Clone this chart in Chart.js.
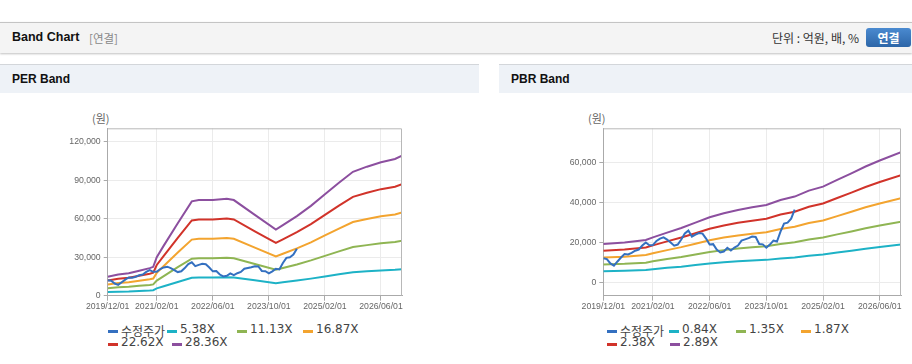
<!DOCTYPE html>
<html>
<head>
<meta charset="utf-8">
<script src="https://cdn.jsdelivr.net/npm/chart.js@4/dist/chart.umd.min.js"></script>
<style>
    body { margin: 0; width: 912px; height: 364px; overflow: hidden; background: #fff; position: relative;
           font-family: "Liberation Sans", Arial, "Noto Sans CJK KR", sans-serif; color: #222; }
    .abs { position: absolute; white-space: nowrap; }
    #topbar { left: 0; top: 22px; width: 912px; height: 30px; background: #f4f4f4;
              border-top: 1px solid #c4c4c4; box-shadow: 0 1px 2px rgba(0,0,0,0.25); }
    .title { font-weight: bold; font-size: 12.5px; color: #111; }
    .btn { left: 866px; top: 28px; width: 45px; height: 19px; border-radius: 3px;
           background: linear-gradient(#4a8ad0, #2d66a8); color: #fff; font-weight: bold;
           font-size: 12px; text-align: center; line-height: 19px; font-family: "Noto Sans CJK KR", sans-serif; }
    .phead { top: 64px; height: 28px; background: #eef2f7; border-top: 1px solid #d3d6da; }
    .unit { font-size: 11px; color: #666; font-family: "Noto Sans CJK KR", sans-serif; }
    .box { top: 93px; height: 220px; }
    .lg { font-family: "DejaVu Sans", "Noto Sans CJK KR", sans-serif; font-size: 12px; color: #444; }
    .lg i { position: absolute; left: 0; top: 7px; width: 10px; height: 3px; }
    .lg span { position: absolute; left: 13px; top: -1px; }
</style>
</head>
<body>
<div class="abs" id="topbar"></div>
<div class="abs title" style="left:12px;top:30px;">Band Chart</div>
<div class="abs" style="left:89px;top:30px;font-size:11.5px;color:#888;font-family:'Noto Sans CJK KR',sans-serif;">[연결]</div>
<div class="abs" style="right:53px;top:29px;font-size:12px;color:#333;font-family:'Noto Sans CJK KR',sans-serif;">단위 : 억원, 배, %</div>
<div class="abs btn">연결</div>

<div class="abs phead" style="left:0;width:479px;"></div>
<div class="abs title" style="left:12px;top:72px;font-size:12px;">PER Band</div>
<div class="abs phead" style="left:499px;width:413px;"></div>
<div class="abs title" style="left:511px;top:72px;font-size:12px;">PBR Band</div>

<div class="abs unit" style="left:92px;top:110px;">(원)</div>
<div class="abs unit" style="left:588px;top:110px;">(원)</div>

<div class="abs box" style="left:0;width:479px;"><canvas id="perChart"></canvas></div>
<div class="abs box" style="left:499px;width:413px;"><canvas id="pbrChart"></canvas></div>

<div id="perLegend"></div>
<div id="pbrLegend"></div>

<script>
// x axis runs monthly from 2019/12 to 2026/12
const axisStart = "2019/12";
const axisEnd = "2026/12";
const xTickMonths = ["2019/12", "2021/02", "2022/06", "2023/10", "2025/02", "2026/06"];

// adjusted share price (수정주가), monthly from 2019/12 to 2024/06
const priceStart = "2019/12";
const priceValues = [12100, 11700, 9500, 8400, 10500, 12500, 14200, 14000, 14800, 15900,
    16500, 18500, 20000, 18600, 18700, 20800, 22000, 22600, 21500, 20000,
    18400, 19000, 21500, 24600, 26000, 23000, 24000, 24800, 24500, 22000,
    19000, 19200, 16500, 15000, 15500, 17400, 16000, 17500, 18500, 21000,
    21600, 22200, 23000, 22800, 19300, 19100, 17400, 19000, 21000, 20500,
    25500, 29500, 30000, 32000, 36500];

// PER band
const perMonths = ["2019/12", "2020/03", "2020/06", "2020/09", "2020/12", "2021/01", "2021/02", "2021/04",
    "2021/08", "2021/12", "2022/02", "2022/06", "2022/10", "2022/12", "2023/06", "2023/12", "2024/02",
    "2024/06", "2024/10", "2025/02", "2025/06", "2025/10", "2026/02", "2026/06", "2026/10", "2026/12"];
const perLabels = ["5.38X", "11.13X", "16.87X", "22.62X", "28.36X"];
const per538 = [2800, 3100, 3300, 3700, 4100, 4300, 5700, 7400, 10700, 13900, 14100, 14100, 14300,
    14100, 12000, 9800, 10400, 11800, 13300, 15000, 16700, 18300, 19100, 19700, 20200, 20700];
const per1113 = [5800, 6500, 6900, 7700, 8400, 8800, 11800, 15300, 22200, 28800, 29200, 29200, 29600,
    29200, 24700, 20200, 21600, 24300, 27500, 31000, 34500, 37900, 39400, 40800, 41800, 42800];
const per1687 = [8800, 9800, 10400, 11600, 12800, 13400, 17800, 23200, 33600, 43700, 44300, 44300, 44900,
    44300, 37500, 30600, 32700, 36900, 41600, 47000, 52300, 57400, 59800, 61900, 63300, 64800];
const per2262 = [11800, 13200, 14000, 15600, 17100, 17900, 23900, 31100, 45100, 58600, 59400, 59400, 60200,
    59400, 50200, 41100, 43900, 49500, 55800, 63000, 70200, 77000, 80200, 83000, 84900, 86900];
const per2836 = [14800, 16500, 17500, 19500, 21500, 22500, 30000, 39000, 56500, 73500, 74500, 74500, 75500,
    74500, 63000, 51500, 55000, 62000, 70000, 79000, 88000, 96500, 100500, 104000, 106500, 109000];
const perYTicks = [0, 30000, 60000, 90000, 120000];

// PBR band
const pbrMonths = ["2019/12", "2020/06", "2020/12", "2021/02", "2021/06", "2021/10", "2022/02", "2022/06",
    "2022/10", "2023/02", "2023/06", "2023/10", "2024/02", "2024/06", "2024/10", "2025/02", "2025/06",
    "2025/10", "2026/02", "2026/06", "2026/12"];
const pbrLabels = ["0.84X", "1.35X", "1.87X", "2.38X", "2.89X"];
const pbr084 = [5600, 5800, 6200, 6600, 7300, 7900, 8700, 9500, 10100, 10600, 11000, 11300, 12000,
    12500, 13400, 14000, 15000, 15900, 16900, 17800, 19000];
const pbr135 = [9000, 9300, 9900, 10600, 11700, 12700, 14000, 15300, 16200, 17000, 17600, 18200, 19300,
    20100, 21500, 22500, 24100, 25600, 27200, 28600, 30500];
const pbr187 = [12500, 12900, 13800, 14600, 16200, 17700, 19400, 21200, 22500, 23600, 24400, 25200, 26800,
    27900, 29800, 31100, 33300, 35500, 37700, 39600, 42300];
const pbr238 = [15900, 16500, 17500, 18600, 20600, 22500, 24700, 26900, 28600, 30000, 31000, 32000, 34100,
    35500, 38000, 39600, 42400, 45100, 47900, 50400, 53900];
const pbr289 = [19300, 20000, 21300, 22600, 25000, 27300, 30000, 32700, 34700, 36400, 37700, 38900, 41400,
    43100, 46100, 48100, 51500, 54800, 58200, 61200, 65400];
const pbrYTicks = [0, 20000, 40000, 60000];

const priceLabel = "수정주가";
const colors = ["#3470c0", "#1db2c6", "#8fb553", "#f3a42f", "#d1332a", "#8c4f9f"];

function monthIndex(s) {
    const [y, m] = s.split("/").map(Number);
    const [y0, m0] = axisStart.split("/").map(Number);
    return (y - y0) * 12 + (m - m0);
}

function monthLabel(idx) {
    const [y0, m0] = axisStart.split("/").map(Number);
    const total = y0 * 12 + (m0 - 1) + idx;
    const y = Math.floor(total / 12);
    const m = total % 12 + 1;
    return y + "/" + String(m).padStart(2, "0") + "/01";
}

function toPoints(months, values) {
    return values.map((v, i) => ({ x: monthIndex(months[i]), y: v }));
}

function pricePoints() {
    const start = monthIndex(priceStart);
    return priceValues.map((v, i) => ({ x: start + i, y: v }));
}

// draws the light box round the plot area
const frame = {
    id: "frame",
    afterDraw(chart) {
        const a = chart.chartArea, ctx = chart.ctx;
        ctx.save();
        ctx.strokeStyle = "#b8b8b8";
        ctx.lineWidth = 1;
        ctx.beginPath();
        ctx.moveTo(a.left, a.top + 0.5);
        ctx.lineTo(a.right - 0.5, a.top + 0.5);
        ctx.lineTo(a.right - 0.5, a.bottom);
        ctx.stroke();
        ctx.restore();
    }
};

function makeChart(id, months, bands, labels, yTicks, yMin, yMax, yWidth, padRight) {
    const datasets = [{
        label: priceLabel,
        data: pricePoints(),
        borderColor: colors[0]
    }];
    bands.forEach((band, i) => {
        datasets.push({ label: labels[i], data: toPoints(months, band), borderColor: colors[i + 1] });
    });
    datasets.forEach(d => { d.borderWidth = 2; d.pointRadius = 0; d.fill = false; d.tension = 0; });

    const tickFont = { family: "'Liberation Sans', Arial, sans-serif", size: 8.7 };
    return new Chart(document.getElementById(id), {
        type: "line",
        data: { datasets },
        plugins: [frame],
        options: {
            responsive: true,
            maintainAspectRatio: false,
            animation: false,
            layout: { padding: { left: 0, top: 35.3, right: padRight, bottom: 0 } },
            plugins: { legend: { display: false }, tooltip: { enabled: false } },
            scales: {
                x: {
                    type: "linear",
                    min: monthIndex(axisStart),
                    max: monthIndex(axisEnd),
                    afterBuildTicks: axis => { axis.ticks = xTickMonths.map(m => ({ value: monthIndex(m) })); },
                    afterFit: axis => { axis.height = 17.3; },
                    ticks: { callback: v => monthLabel(v), color: "#666", font: tickFont, maxRotation: 0, autoSkip: false, padding: 1 },
                    grid: { color: "#ebebeb", tickColor: "#aaa", tickLength: 5 },
                    border: { color: "#aaa" }
                },
                y: {
                    min: yMin,
                    max: yMax,
                    afterBuildTicks: axis => { axis.ticks = yTicks.map(v => ({ value: v })); },
                    afterFit: axis => { axis.width = yWidth; },
                    ticks: { callback: v => v.toLocaleString("en-US"), color: "#666", font: tickFont, padding: 3 },
                    grid: { color: "#ebebeb", tickColor: "#aaa", tickLength: 4 },
                    border: { color: "#aaa" }
                }
            }
        }
    });
}

makeChart("perChart", perMonths, [per538, per1113, per1687, per2262, per2836], perLabels,
    perYTicks, 0, 130400, 107.7, 77);
makeChart("pbrChart", pbrMonths, [pbr084, pbr135, pbr187, pbr238, pbr289], pbrLabels,
    pbrYTicks, -6700, 77400, 104.3, 11);

// legends in two rows, placed like the original page
function buildLegend(elId, labels, slots) {
    const el = document.getElementById(elId);
    const names = [priceLabel].concat(labels);
    names.forEach((name, i) => {
        const item = document.createElement("div");
        item.className = "abs lg";
        item.style.left = slots[i][0] + "px";
        item.style.top = slots[i][1] + "px";
        item.innerHTML = '<i style="background:' + colors[i] + '"></i><span>' + name + "</span>";
        el.appendChild(item);
    });
}

buildLegend("perLegend", perLabels, [[108, 323], [167, 323], [237, 323], [303, 323], [108, 336], [172, 336]]);
buildLegend("pbrLegend", pbrLabels, [[607, 323], [669, 323], [736, 323], [801, 323], [607, 336], [670, 336]]);
</script>
</body>
</html>
